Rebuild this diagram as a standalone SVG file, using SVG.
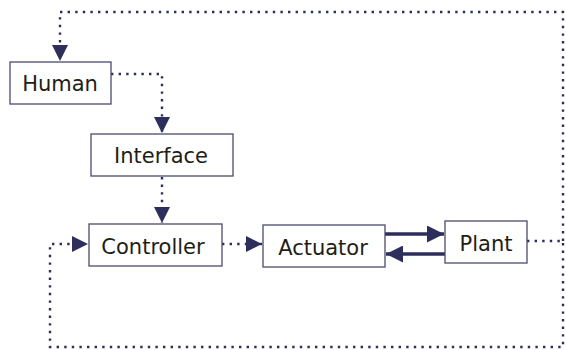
<svg xmlns="http://www.w3.org/2000/svg" width="566" height="350" viewBox="0 0 566 350">
<style>
.box{fill:#fff;stroke:#4a4a6e;stroke-width:1.3}
.lbl{font-family:"DejaVu Sans",Verdana,sans-serif;font-size:21px;fill:#1e1e14;text-anchor:middle}
.dot{fill:none;stroke:#2e2e5c;stroke-width:2.4;stroke-dasharray:2.4 5.2}
.thick{fill:none;stroke:#2e2e5c;stroke-width:3.5}
</style>
<defs>
<marker id="ah" markerWidth="16" markerHeight="16" refX="16" refY="8" orient="auto" markerUnits="userSpaceOnUse">
<path d="M0,0 L16,8 L0,16 Z" fill="#2e2e5c"/>
</marker>
<marker id="ahb" markerWidth="17" markerHeight="17" refX="17" refY="8.5" orient="auto" markerUnits="userSpaceOnUse">
<path d="M0,0 L17,8.5 L0,17 Z" fill="#2e2e5c"/>
</marker>
</defs>
<g id="connectors">
<path class="dot" d="M563,241 L563,12 L60,12 L60,61" marker-end="url(#ah)"/>
<path class="dot" d="M111,74 L162,74 L162,133" marker-end="url(#ah)"/>
<path class="dot" d="M162,177 L162,223" marker-end="url(#ah)"/>
<path class="dot" d="M222,244 L262,244" marker-end="url(#ah)"/>
<path class="dot" d="M527,241 L563,241 L563,347 L50,347 L50,244 L88,244" marker-end="url(#ah)"/>
<path class="thick" d="M385,234 L444,234" marker-end="url(#ahb)"/>
<path class="thick" d="M445,254 L386,254" marker-end="url(#ahb)"/>
</g>
<g id="human"><rect class="box" x="10" y="62" width="101" height="42"/><text class="lbl" x="60" y="91">Human</text></g>
<g id="interface"><rect class="box" x="91" y="134" width="142" height="42"/><text class="lbl" x="161" y="163">Interface</text></g>
<g id="controller"><rect class="box" x="89" y="224" width="133" height="42"/><text class="lbl" x="153" y="254">Controller</text></g>
<g id="actuator"><rect class="box" x="263" y="225" width="122" height="42"/><text class="lbl" x="323" y="255">Actuator</text></g>
<g id="plant"><rect class="box" x="445" y="221" width="82" height="42"/><text class="lbl" x="486" y="251">Plant</text></g>
</svg>
